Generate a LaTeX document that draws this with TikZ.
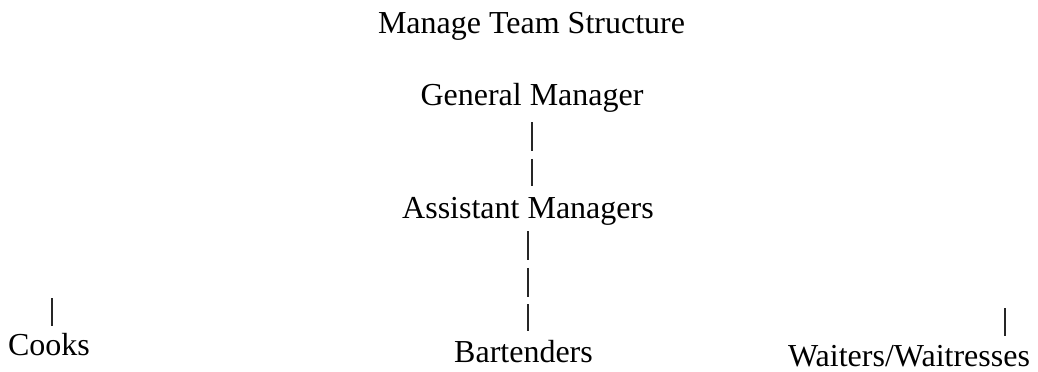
\documentclass[tikz,border=0pt]{standalone}
\usepackage{fontspec}
\setmainfont{Liberation Serif}
\usepackage{tikz}
\tikzset{every picture/.style={x=0.5pt,y=-0.5pt,every node/.style={inner sep=0pt,anchor=base,text height=10.5pt,text depth=3.5pt,font=\fontsize{16pt}{18pt}\selectfont}},
  bar/.style={line width=0.8pt,black!85},
  bars/.style={bar,dash pattern=on 14.5pt off 3.7pt}}

\begin{document}
\begin{tikzpicture}
    \useasboundingbox (0,0) rectangle (1038,371);

    \node (title) at (531.5,33){Manage Team Structure};
    \node (gm) at (532,105){General Manager};
    \node (am) at (528,218){Assistant Managers};
    \node (bt) at (523.5,362){Bartenders};
    \node (ck) at (49,355){Cooks};
    \node (wt) at (909,366){Waiters/Waitresses};

    \coordinate (ckTop) at (52,298);
    \coordinate (wtTop) at (1005,308);

    \draw[bars, shorten <=5pt, shorten >=5.5pt](gm.south)--(gm.south |- am.north);
    \draw[bars, shorten <=3pt, shorten >=5pt](am.south)--(am.south |- bt.north);
    \draw[bar, shorten >=4pt](ckTop)--(ckTop |- ck.north);
    \draw[bar, shorten >=4.5pt](wtTop)--(wtTop |- wt.north);
  \end{tikzpicture}
\end{document}
